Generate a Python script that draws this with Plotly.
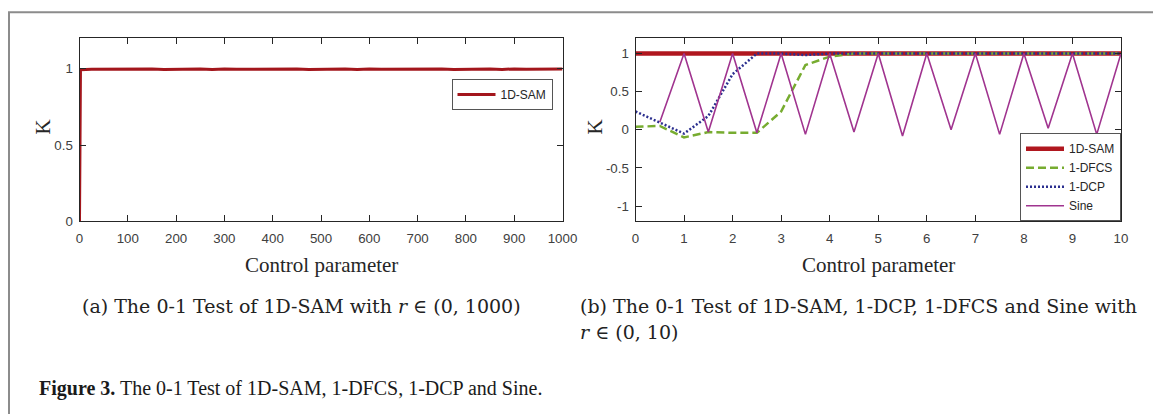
import plotly.graph_objects as go

# ---------------- data ----------------
# panel (a): 1D-SAM, r in (0, 1000)
sam_r = [0, 2, 25, 50, 75, 100, 125, 150, 175, 200, 225, 250, 275, 300, 325, 350, 375, 400,
         425, 450, 475, 500, 525, 550, 575, 600, 625, 650, 675, 700, 725, 750, 775, 800,
         825, 850, 875, 900, 925, 950, 975, 1000]
sam_k = [0.0, 0.994, 0.997, 0.998, 0.996, 0.998, 0.997, 0.999, 0.996, 0.998, 0.997, 0.998,
         0.996, 0.999, 0.997, 0.998, 0.996, 0.998, 0.997, 0.999, 0.996, 0.998, 0.997, 0.998,
         0.996, 0.999, 0.997, 0.998, 0.996, 0.998, 0.997, 0.999, 0.996, 0.998, 0.997, 0.998,
         0.996, 0.999, 0.997, 0.998, 0.997, 0.998]

# panel (b): r in (0, 10)
r_b = [0, 0.5, 1, 1.5, 2, 2.5, 3, 3.5, 4, 4.5, 5, 5.5, 6, 6.5, 7, 7.5, 8, 8.5, 9, 9.5, 10]
sam_b = [1.0, 1.0, 1.0, 1.0, 1.0, 1.0, 1.0, 1.0, 1.0, 1.0, 1.0,
         1.0, 1.0, 1.0, 1.0, 1.0, 1.0, 1.0, 1.0, 1.0, 1.0]
dfcs_b = [0.04, 0.05, -0.10, -0.03, -0.04, -0.04, 0.24, 0.85, 0.96, 1.0, 1.0,
          1.0, 1.0, 1.0, 1.0, 1.0, 1.0, 1.0, 1.0, 1.0, 1.0]
dcp_b = [0.24, 0.10, -0.05, 0.18, 0.73, 1.0, 1.0, 0.98, 1.0, 1.0, 1.0,
         1.0, 1.0, 1.0, 1.0, 1.0, 1.0, 1.0, 1.0, 1.0, 1.0]
sine_r = [0.5, 1, 1.5, 2, 2.5, 3, 3.5, 4, 4.5, 5, 5.5, 6, 6.5, 7, 7.5, 8, 8.5, 9, 9.5, 10]
sine_b = [0.10, 1.0, -0.03, 1.0, -0.04, 1.0, -0.06, 1.0, -0.03, 1.0, -0.08,
          1.0, 0.0, 1.0, -0.06, 1.0, 0.02, 1.0, -0.06, 1.0]

x_ticks_a = [0, 100, 200, 300, 400, 500, 600, 700, 800, 900, 1000]
y_ticks_a = [0, 0.5, 1]
x_ticks_b = [0, 1, 2, 3, 4, 5, 6, 7, 8, 9, 10]
y_ticks_b = [-1, -0.5, 0, 0.5, 1]

# ---------------- figure ----------------
W, H = 1153, 414
def px(x):
    return x / W
def py(y):
    return (H - y) / H

RED = "#B0171F"
GREEN = "#77AC30"
BLUE = "#2B2F8F"
PURPLE = "#A0348F"

fig = go.Figure()
fig.add_trace(go.Scatter(x=sam_r, y=sam_k, mode="lines", name="1D-SAM",
                         line=dict(color="#A3161C", width=3),
                         xaxis="x", yaxis="y", legend="legend"))
fig.add_trace(go.Scatter(x=r_b, y=sam_b, mode="lines", name="1D-SAM",
                         line=dict(color=RED, width=4.5),
                         xaxis="x2", yaxis="y2", legend="legend2"))
fig.add_trace(go.Scatter(x=r_b, y=dfcs_b, mode="lines", name="1-DFCS",
                         line=dict(color=GREEN, width=2.5, dash="8px,4px"),
                         xaxis="x2", yaxis="y2", legend="legend2"))
fig.add_trace(go.Scatter(x=r_b, y=dcp_b, mode="lines", name="1-DCP",
                         line=dict(color=BLUE, width=2.5, dash="2px,2px"),
                         xaxis="x2", yaxis="y2", legend="legend2"))
fig.add_trace(go.Scatter(x=sine_r, y=sine_b, mode="lines", name="Sine",
                         line=dict(color=PURPLE, width=1.6),
                         xaxis="x2", yaxis="y2", legend="legend2"))

tickfont = dict(family="Liberation Sans, Arial, sans-serif", size=13.3, color="#404040")
titlefont = dict(family="Liberation Serif, Times New Roman, serif", size=21, color="#262626")

common = dict(showline=True, linecolor="#262626", linewidth=1, mirror="ticks",
              ticks="inside", ticklen=6, tickwidth=1, tickcolor="#262626",
              showgrid=False, zeroline=False, tickfont=tickfont, automargin=False)

legfont = dict(family="Liberation Sans, Arial, sans-serif", size=12, color="#262626")

y_dom = [py(221.3), py(38.3)]
fig.update_layout(
    width=W, height=H, margin=dict(l=0, r=0, t=0, b=0, autoexpand=False),
    paper_bgcolor="white", plot_bgcolor="white", showlegend=True,
    xaxis=dict(domain=[px(79.5), px(562.5)], range=[0, 1000], tickvals=x_ticks_a,
               anchor="y", ticklabelstandoff=5, **common),
    yaxis=dict(domain=y_dom, range=[0, 1.2], tickvals=y_ticks_a,
               ticktext=["0", "0.5", "1"], anchor="x", ticklabelstandoff=3, **common),
    xaxis2=dict(domain=[px(635.5), px(1121)], range=[0, 10], tickvals=x_ticks_b,
                anchor="y2", ticklabelstandoff=5, **common),
    yaxis2=dict(domain=y_dom, range=[-1.2, 1.2], tickvals=y_ticks_b,
                ticktext=["-1", "-0.5", "0", "0.5", "1"], anchor="x2",
                ticklabelstandoff=3, **common),
    legend=dict(x=px(552.5), y=py(79), xanchor="right", yanchor="top",
                bgcolor="white", bordercolor="#555555", borderwidth=1,
                font=legfont, itemwidth=38, tracegroupgap=0),
    legend2=dict(x=px(1121), y=py(221.3), xanchor="right", yanchor="bottom",
                 bgcolor="white", bordercolor="#555555", borderwidth=1,
                 font=legfont, itemwidth=38, tracegroupgap=0),
)

# axis titles
for xc in (321, 878):
    fig.add_annotation(xref="paper", yref="paper", x=px(xc), y=py(265), showarrow=False,
                       xanchor="center", yanchor="middle", font=titlefont,
                       text="Control parameter")
for xc in (42.5, 594.5):
    fig.add_annotation(xref="paper", yref="paper", x=px(xc), y=py(127), showarrow=False,
                       xanchor="center", yanchor="middle", font=titlefont,
                       text="K", textangle=-90)

# outer frame of the figure page
fig.add_shape(type="rect", xref="paper", yref="paper",
              x0=px(9), y0=py(430), x1=px(1170), y1=py(12.3),
              line=dict(color="#8C8C8C", width=2), fillcolor="rgba(0,0,0,0)", layer="below")

capfont = dict(family="DejaVu Serif, serif", size=19, color="#222222")
fig.add_annotation(xref="paper", yref="paper", x=px(301), y=py(306), xanchor="center",
                   yanchor="middle", showarrow=False, font=capfont,
                   text="(a) The 0-1 Test of 1D-SAM with <i>r</i> ∈ (0, 1000)")
fig.add_annotation(xref="paper", yref="paper", x=px(578), y=py(306), xanchor="left",
                   yanchor="middle", showarrow=False, font=capfont,
                   text="(b) The 0-1 Test of 1D-SAM, 1-DCP, 1-DFCS and Sine with")
fig.add_annotation(xref="paper", yref="paper", x=px(578), y=py(332), xanchor="left",
                   yanchor="middle", showarrow=False, font=capfont,
                   text="<i>r</i> ∈ (0, 10)")
fig.add_annotation(xref="paper", yref="paper", x=px(37), y=py(388), xanchor="left",
                   yanchor="middle", showarrow=False,
                   font=dict(family="Liberation Serif, Times New Roman, serif", size=20, color="#1a1a1a"),
                   text="<b>Figure 3.</b> The 0-1 Test of 1D-SAM, 1-DFCS, 1-DCP and Sine.")

fig.write_html("out.html", config={"displayModeBar": False},
               post_script="document.body.style.margin='0px';document.body.style.overflow='hidden';")
